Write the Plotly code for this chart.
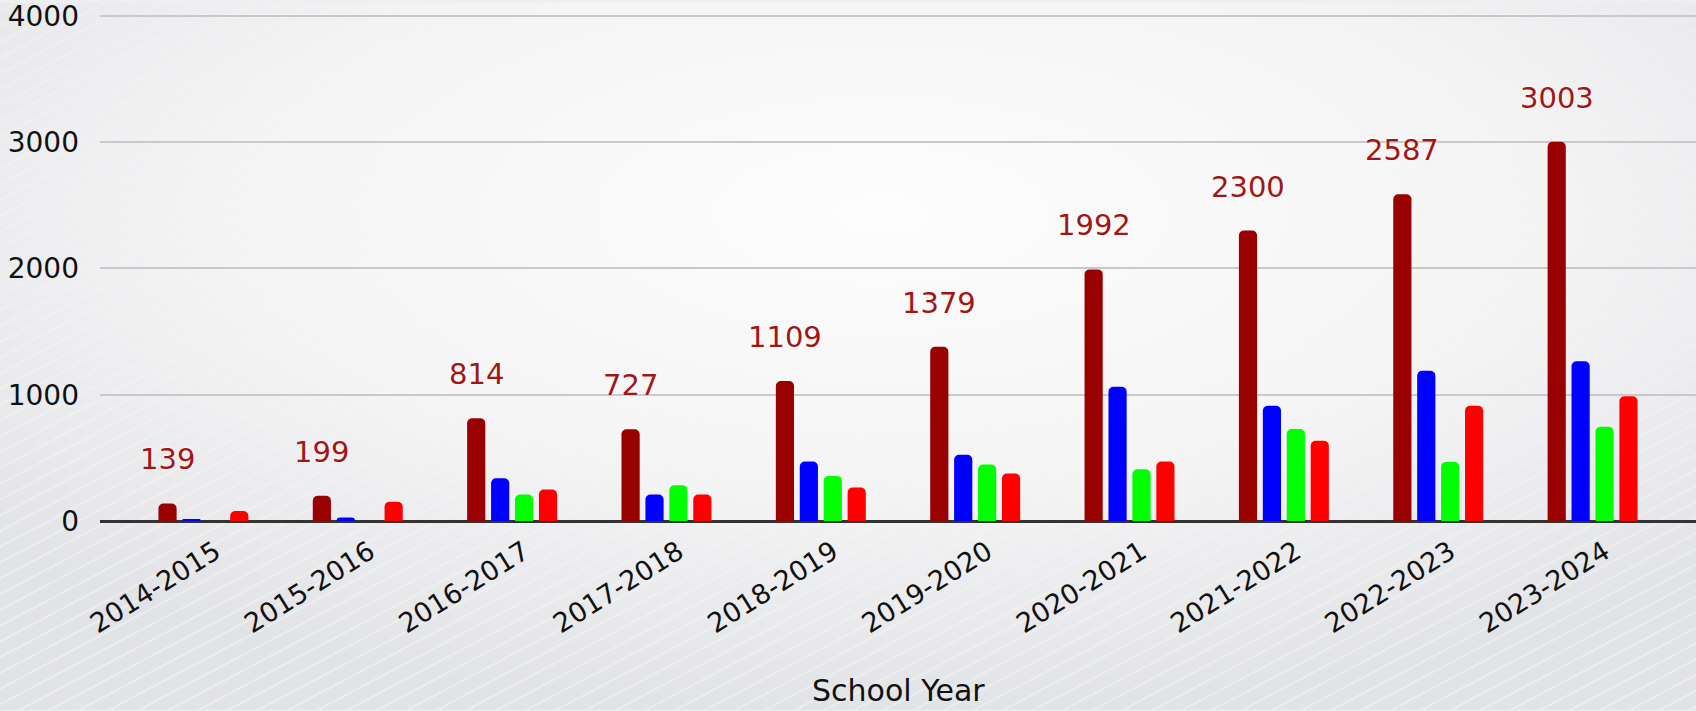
import base64
import plotly.graph_objects as go

years = ["2014-2015", "2015-2016", "2016-2017", "2017-2018", "2018-2019",
         "2019-2020", "2020-2021", "2021-2022", "2022-2023", "2023-2024"]
total = [139, 199, 814, 727, 1109, 1379, 1992, 2300, 2587, 3003]
blue_vals = [8, 28, 339, 209, 471, 524, 1063, 913, 1190, 1265]
green_vals = [0, 0, 209, 283, 357, 447, 410, 728, 468, 746]
red_vals = [79, 153, 249, 209, 265, 376, 471, 635, 913, 987]
y_ticks = [0, 1000, 2000, 3000, 4000]

W, H = 1696, 711
ML, MR, MT, MB = 100, 0, 9, 190
PW, PH = W - ML - MR, H - MT - MB

series = [
    ("Total", total, "#990000"),
    ("Blue", blue_vals, "#0000ff"),
    ("Green", green_vals, "#00ff00"),
    ("Red", red_vals, "#ff0000"),
]

fig = go.Figure()
for name, vals, col in series:
    fig.add_trace(go.Bar(x=years, y=vals, name=name, marker_color=col,
                         marker_line_width=0, hoverinfo="x+y"))

# decorative background: soft radial gradient with faint white streaks
svg = f'''<svg xmlns="http://www.w3.org/2000/svg" width="{W}" height="{H}">
<defs>
<radialGradient id="g" cx="0.52" cy="0.3" r="0.7">
<stop offset="0" stop-color="#fdfdfd"/><stop offset="0.55" stop-color="#f4f4f5"/>
<stop offset="1" stop-color="#e2e3e6"/></radialGradient>
<pattern id="p" width="14" height="14" patternUnits="userSpaceOnUse" patternTransform="rotate(-28)">
<line x1="0" y1="7" x2="14" y2="7" stroke="#ffffff" stroke-width="1.2"/></pattern>
<radialGradient id="mg" cx="0.55" cy="0.25" r="0.8">
<stop offset="0.35" stop-color="#000"/><stop offset="1" stop-color="#fff"/></radialGradient>
<mask id="m"><rect width="{W}" height="{H}" fill="url(#mg)"/></mask>
</defs>
<rect width="{W}" height="{H}" fill="url(#g)"/>
<rect width="{W}" height="{H}" fill="url(#p)" mask="url(#m)" opacity="0.6"/></svg>'''
uri = "data:image/svg+xml;base64," + base64.b64encode(svg.encode()).decode()

bargap = 0.38
bargroupgap = 0.24
x_lo, x_hi = -0.67, 9.67
y_lo, y_hi = 0, 4030
cat_px = PW / (x_hi - x_lo)
slot = cat_px * (1 - bargap) / 4
first_offset = -1.5 * slot

annotations = []
for yr, v in zip(years, total):
    annotations.append(dict(x=yr, y=v, xref="x", yref="y", text=str(v),
                            showarrow=False, xshift=first_offset, yshift=44,
                            yanchor="middle",
                            font=dict(family="DejaVu Sans", size=29, color="#a31515",
                                      shadow="0px 0px 3px #ffffff")))
annotations.append(dict(x=0.5, y=0, xref="paper", yref="paper",
                        text="School Year", showarrow=False, yshift=-169,
                        yanchor="middle",
                        font=dict(family="DejaVu Sans", size=30, color="#111111")))

fig.update_layout(
    width=W, height=H,
    margin=dict(l=ML, r=MR, t=MT, b=MB, pad=0),
    paper_bgcolor="#eeeff1",
    plot_bgcolor="rgba(0,0,0,0)",
    barmode="group", bargap=bargap, bargroupgap=bargroupgap,
    barcornerradius=5,
    showlegend=False,
    images=[dict(source=uri, xref="paper", yref="paper",
                 x=-ML / PW, y=1 + MT / PH, sizex=W / PW, sizey=H / PH,
                 xanchor="left", yanchor="top", sizing="stretch", layer="below")],
    annotations=annotations,
    xaxis=dict(range=[x_lo, x_hi], tickangle=-32, showgrid=False,
               showline=False, zeroline=False, ticks="",
               tickfont=dict(family="DejaVu Sans", size=27, color="#111111"),
               ticklabelstandoff=9, ticklabelshift=12),
    yaxis=dict(range=[y_lo, y_hi], tickvals=y_ticks, showgrid=True,
               gridcolor="#c9c9cb", gridwidth=2,
               zeroline=True, zerolinecolor="#333333", zerolinewidth=2.5,
               ticks="", ticklabelstandoff=20, ticklabeloverflow="allow",
               tickfont=dict(family="DejaVu Sans", size=28, color="#111111")),
)

fig.write_html("out.html", post_script="document.body.style.margin='0';",
               config={"displayModeBar": False})
